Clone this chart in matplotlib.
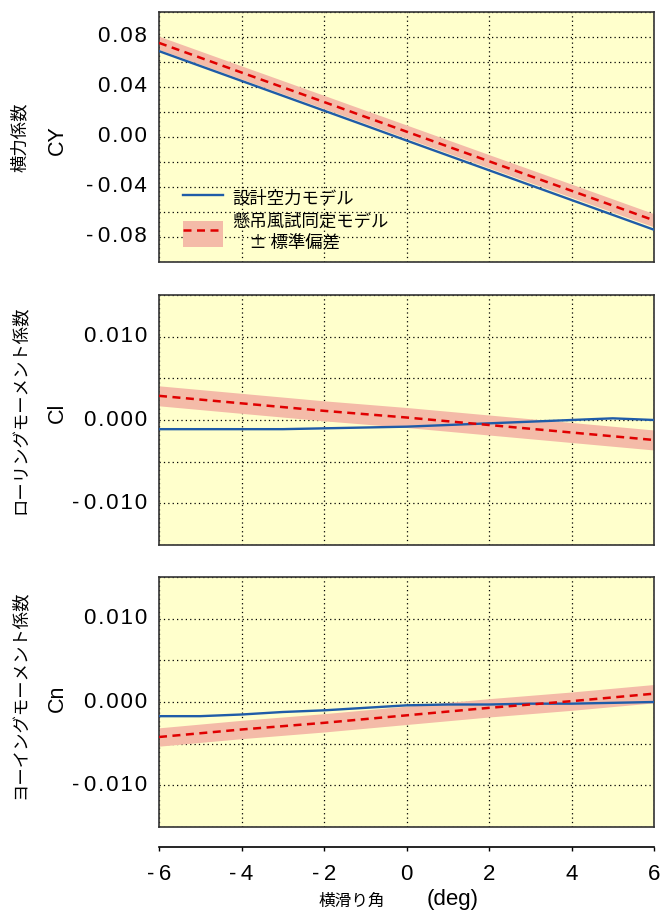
import numpy as np
import matplotlib.pyplot as plt
from matplotlib.lines import Line2D
from matplotlib.patches import Patch

# sideslip angle (deg)
beta = [-6, -5, -4, -3, -2, -1, 0, 1, 2, 3, 4, 5, 6]
beta_id = [-6, -4, -2, 0, 2, 4, 6]

# design aero model
cy_design = [0.0687, 0.0568, 0.0449, 0.0330, 0.0211, 0.0092, -0.0028,
             -0.0147, -0.0266, -0.0385, -0.0504, -0.0623, -0.0742]
cl_design = [-0.0011, -0.0011, -0.0011, -0.0011, -0.0010, -0.0009, -0.0008,
             -0.0006, -0.0004, -0.0002, 0.0000, 0.0002, 0.0000]
cn_design = [-0.0017, -0.0017, -0.0015, -0.0012, -0.0010, -0.0007, -0.0004,
             -0.0003, -0.0003, -0.0002, -0.0002, -0.0001, 0.0000]

# identified model (suspended wind tunnel test) and its std dev
cy_id = [0.0753, 0.0516, 0.0280, 0.0043, -0.0194, -0.0430, -0.0667]
cl_id = [0.0029, 0.0020, 0.0011, 0.0003, -0.0006, -0.0015, -0.0024]
cn_id = [-0.0042, -0.0033, -0.0025, -0.0016, -0.0007, 0.0001, 0.0010]
cy_sd = 0.0053
cl_sd = 0.0012
cn_sd = 0.0011

jp = ['Noto Sans CJK JP', 'DejaVu Sans']
lat = ['Liberation Sans', 'DejaVu Sans']
plt.rcParams['font.family'] = lat

blue = '#1f5ca8'
red = '#e00000'
band = '#f4bba8'
bg = '#ffffcc'

def spaced(s):
    # widen the tick label lettering a bit, with a wider gap after the minus
    out = '\u200a'.join(s)
    return out.replace('-\u200a', '-\u2009', 1)

W, H = 660, 913
fig = plt.figure(figsize=(W / 100, H / 100), dpi=100)

def px_axes(top, bottom, left=159, right=654):
    return fig.add_axes([left / W, 1 - bottom / H, (right - left) / W, (bottom - top) / H])

panels = [
    (12, 262, cy_design, cy_id, cy_sd, (-0.1, 0.1), 0.02, [-0.08, -0.04, 0.0, 0.04, 0.08], '{:.2f}',
     '横力係数', 'CY', 137),
    (295, 545, cl_design, cl_id, cl_sd, (-0.015, 0.015), 0.005, [-0.01, 0.0, 0.01], '{:.3f}',
     'ローリングモーメント係数', 'Cl', 410),
    (577, 827, cn_design, cn_id, cn_sd, (-0.015, 0.015), 0.005, [-0.01, 0.0, 0.01], '{:.3f}',
     'ヨーイングモーメント係数', 'Cn', 695),
]

axes = []
for top, bot, des, ident, sd, ylim, gstep, labs, fmt, jlabel, sym, ymid in panels:
    ax = px_axes(top, bot)
    ax.set_facecolor(bg)
    ident = np.array(ident)
    ax.fill_between(beta_id, ident - sd, ident + sd, color=band, lw=0, zorder=2)
    ax.plot(beta, des, color=blue, lw=1.7, zorder=3)
    ax.plot(beta_id, ident, color=red, lw=1.8, ls=(0, (3.2, 2.2)), zorder=4)
    ax.set_xlim(-6, 6)
    ax.set_ylim(*ylim)
    ax.set_xticks(np.arange(-6, 7, 2))
    ax.set_yticks(np.arange(ylim[0], ylim[1] + gstep / 2, gstep))
    ax.grid(True, color='black', ls=(0, (1, 2.5)), lw=0.9, zorder=1)
    ax.tick_params(length=0, labelbottom=False, labelleft=False)
    for v in labs:
        t = fmt.format(v)
        ax.text(-6, v, spaced(t) + '  ', transform=ax.transData, ha='right', va='center',
                fontsize=16, family=lat, clip_on=False)
    for sp in ax.spines.values():
        sp.set_linewidth(1.2)
        sp.set_color('#333333')
    fig.text(20 / W, 1 - ymid / H, jlabel, rotation=90, ha='center', va='center',
             fontsize=12.5, family=jp)
    fig.text(57 / W, 1 - (ymid + 3) / H, sym, rotation=90, ha='center', va='center',
             fontsize=15.5, family=lat)
    axes.append(ax)

# legend in the top panel
h_design = Line2D([], [], color=blue, lw=1.7)
h_id = (Patch(facecolor=band, edgecolor='none'),
        Line2D([], [], color=red, lw=1.8, ls=(0, (3.2, 2.2))))
leg = axes[0].legend([h_design, h_id], ['設計空力モデル', '懸吊風試同定モデル\n\u3000± 標準偏差'],
                     loc='upper left', bbox_to_anchor=(0.035, 0.333), frameon=False,
                     prop={'family': jp, 'size': 12.5}, handlelength=2.3, handleheight=1.9,
                     labelspacing=0.1, handletextpad=0.5, borderaxespad=0)

# separate x axis below the panels
axx = fig.add_axes([159 / W, 1 - 847 / H, 495 / W, 0.001])
axx.set_facecolor('none')
for k in ['top', 'left', 'right']:
    axx.spines[k].set_visible(False)
axx.spines['bottom'].set_linewidth(1.2)
axx.set_xlim(-6, 6)
axx.set_yticks([])
axx.set_xticks(np.arange(-6, 7, 2))
axx.set_xticklabels([spaced(f'-{abs(v)}') if v < 0 else str(v) for v in range(-6, 7, 2)],
                    fontsize=16, family=lat)
axx.tick_params(axis='x', direction='out', length=3, width=1, pad=9)

fig.text(352 / W, 1 - 901 / H, '横滑り角', ha='center', va='center', fontsize=12, family=jp)
fig.text(453 / W, 1 - 899 / H, '(deg)', ha='center', va='center', fontsize=16, family=lat)

fig.savefig('out.png', dpi=100)
